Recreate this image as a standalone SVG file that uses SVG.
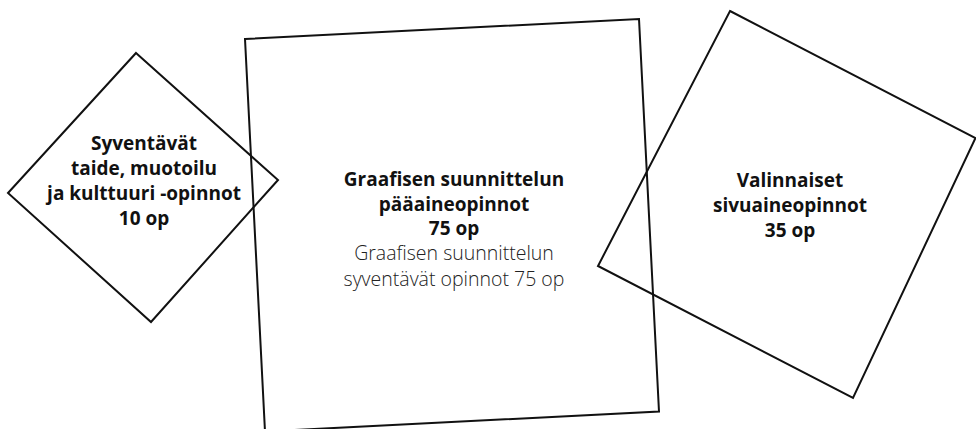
<svg xmlns="http://www.w3.org/2000/svg" width="976" height="429" viewBox="0 0 976 429">
  <style>
    .shape { fill: none; stroke: #111; stroke-width: 2; stroke-linejoin: miter; }
    .b { font-family: "Open Sans", "Noto Sans", "DejaVu Sans", sans-serif; font-weight: 700; font-size: 19px; fill: #111; text-anchor: middle; }
    .l { font-family: "Open Sans", "Noto Sans", "DejaVu Sans", sans-serif; font-weight: 300; font-size: 19.5px; fill: #222; text-anchor: middle; }
  </style>
  <rect width="976" height="429" fill="#fff"/>
  <g id="connectors"/>
  <g id="node-syventavat">
    <polygon class="shape" points="136,53 278,180 151,322 8,193"/>
    <text class="b" x="144" y="150">Syventävät</text>
    <text class="b" x="144" y="175">taide, muotoilu</text>
    <text class="b" x="144" y="200">ja kulttuuri -opinnot</text>
    <text class="b" x="144" y="225">10 op</text>
  </g>
  <g id="node-valinnaiset">
    <polygon class="shape" points="730,11 975.5,138 853,398 598,266"/>
    <text class="b" x="790" y="187">Valinnaiset</text>
    <text class="b" x="790" y="212">sivuaineopinnot</text>
    <text class="b" x="790" y="237">35 op</text>
  </g>
  <g id="node-paaaine">
    <polygon class="shape" points="245,39 639,19 659,411.5 265,431.5"/>
    <text class="b" x="454" y="186">Graafisen suunnittelun</text>
    <text class="b" x="454" y="211">pääaineopinnot</text>
    <text class="b" x="454" y="235">75 op</text>
    <text class="l" x="454" y="260">Graafisen suunnittelun</text>
    <text class="l" x="454" y="286">syventävät opinnot 75 op</text>
  </g>
</svg>
